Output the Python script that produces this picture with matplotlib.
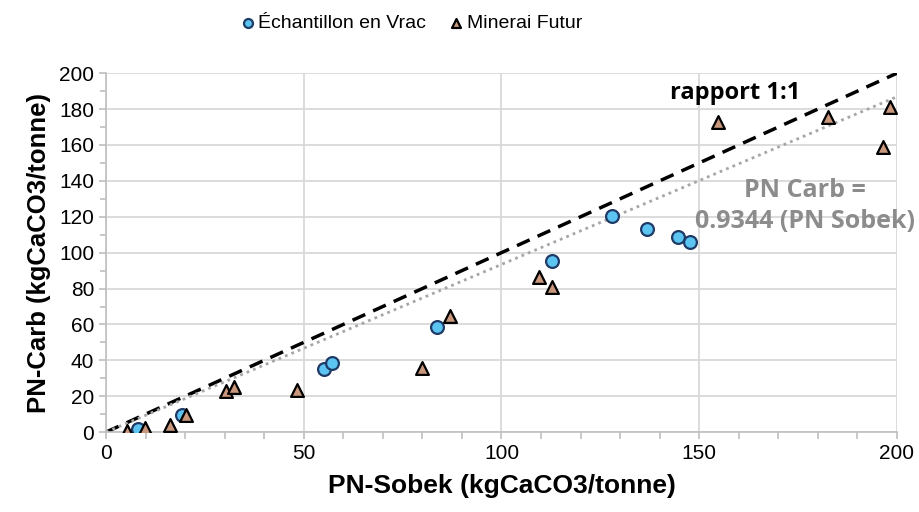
import matplotlib.pyplot as plt
import numpy as np
from matplotlib.ticker import MultipleLocator

plt.rcParams['font.family'] = ['Liberation Sans', 'DejaVu Sans']

# Échantillon en Vrac
vrac_x = [8, 19.2, 55.1, 57.1, 83.7, 112.7, 128, 136.7, 144.7, 147.7]
vrac_y = [2, 9.5, 35.1, 38.4, 58.5, 95.3, 120.3, 113, 108.5, 105.7]

# Minerai Futur
fut_x = [5.4, 9.9, 16.3, 20.2, 30.3, 32.4, 48.2, 79.8, 87, 109.5, 112.7, 154.8, 182.6, 198.2, 196.6]
fut_y = [0.8, 2.5, 3.9, 9.8, 23, 25.2, 23.4, 36, 64.6, 86.5, 81, 172.9, 175.7, 181.2, 159]

slope = 0.9344
x_line = np.array([0, 200])

fig = plt.figure(figsize=(9.19, 5.12), dpi=100)
ax = fig.add_axes([0.1153, 0.156, 0.8607, 0.701])

# 1:1 line and regression
ax.plot(x_line, x_line, color='black', linestyle=(0, (4, 2.5)), lw=2.5, zorder=2)
ax.plot(x_line, slope * x_line, color='#a6a6a6', linestyle=(0, (1, 1.5)), lw=2, zorder=2)

ax.scatter(vrac_x, vrac_y, s=85, marker='o', facecolor='#5bc4f1', edgecolor='#1f3a66',
           linewidth=1.6, label='Échantillon en Vrac', zorder=3)
ax.scatter(fut_x, fut_y, s=85, marker='^', facecolor='#c9987c', edgecolor='black',
           linewidth=1.6, label='Minerai Futur', zorder=3)

ax.set_xlim(0, 200)
ax.set_ylim(0, 200)
ax.xaxis.set_major_locator(MultipleLocator(50))
ax.xaxis.set_minor_locator(MultipleLocator(10))
ax.yaxis.set_major_locator(MultipleLocator(20))
ax.yaxis.set_minor_locator(MultipleLocator(10))
ax.grid(True, which='major', color='#d9d9d9', lw=1.3)
ax.set_axisbelow(True)

for s in ['top', 'right']:
    ax.spines[s].set_visible(False)
for s in ['left', 'bottom']:
    ax.spines[s].set_color('#bfbfbf')
    ax.spines[s].set_linewidth(1.2)
ax.tick_params(which='both', color='#bfbfbf', width=1.2, labelsize=15)
ax.tick_params(which='major', length=5)
ax.tick_params(which='minor', length=5)
ax.tick_params(axis='y', which='minor', length=4)

ax.set_xlabel('PN-Sobek (kgCaCO3/tonne)', fontsize=19, fontweight='bold', labelpad=8)
ax.set_ylabel('PN-Carb (kgCaCO3/tonne)', fontsize=18.5, fontweight='bold', labelpad=6)

ax.text(159, 189, 'rapport 1:1', fontsize=17, fontweight='bold', color='black',
        ha='center', va='center', family=['Open Sans', 'DejaVu Sans'])
ax.text(176.7, 126, 'PN Carb =\n0.9344 (PN Sobek)', fontsize=18, fontweight='bold',
        color='#8c8c8c', ha='center', va='center', linespacing=1.35,
        family=['Open Sans', 'DejaVu Sans'])

fig.legend(loc='center', bbox_to_anchor=(0.448, 0.955), ncol=2, frameon=False,
           fontsize=14, handlelength=0.7, handletextpad=0.2, columnspacing=1.2,
           markerscale=0.7)

fig.savefig('out.png', dpi=100)
